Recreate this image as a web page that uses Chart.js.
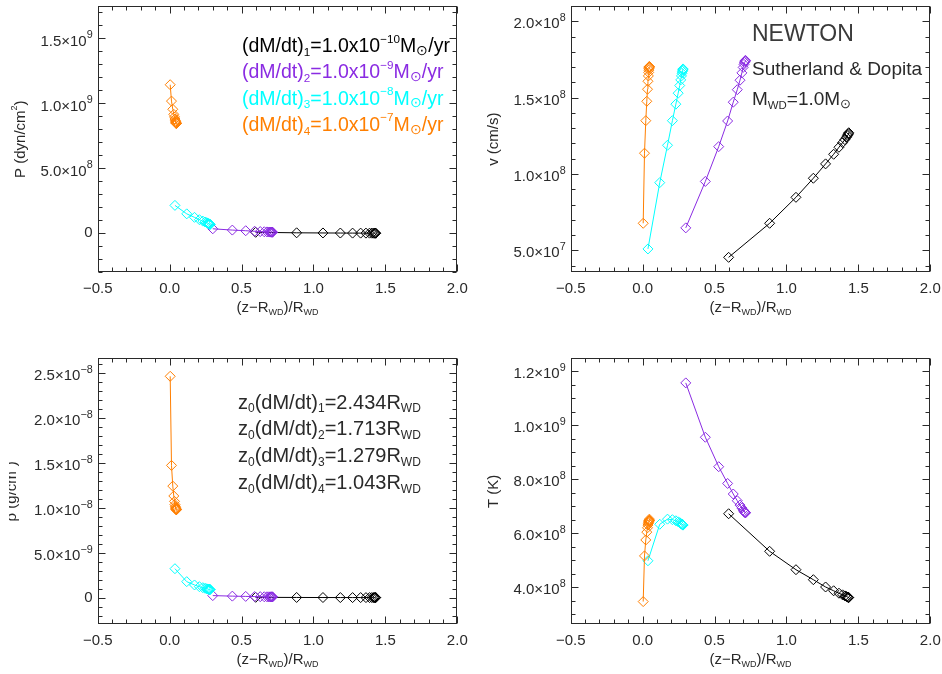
<!DOCTYPE html>
<html>
<head>
<meta charset="utf-8">
<script src="https://cdn.jsdelivr.net/npm/chart.js@4.4.1/dist/chart.umd.min.js"></script>
<style>
body { margin: 0; background: #fff; width: 942px; height: 674px; position: relative; overflow: hidden; }
canvas { position: absolute; }
</style>
</head>
<body>
<canvas id="pres" width="471" height="337" style="left:0;top:0"></canvas>
<canvas id="vel" width="471" height="337" style="left:471px;top:0"></canvas>
<canvas id="rho" width="471" height="337" style="left:0;top:337px"></canvas>
<canvas id="temp" width="471" height="337" style="left:471px;top:337px"></canvas>
<script>
const FONT = '"Liberation Sans", Arial, sans-serif';
const INK = '#2a2a2a';

// one series per accretion rate (dM/dt)1..4
const seriesNames = ['(dM/dt)1', '(dM/dt)2', '(dM/dt)3', '(dM/dt)4'];
const seriesColors = ['#000000', '#8a2be2', '#00ffff', '#ff7f00'];
const rateExps = ['\u221210', '\u22129', '\u22128', '\u22127'];
const z0Values = ['2.434', '1.713', '1.279', '1.043'];

// (z - R_WD) / R_WD of each zone
const z1 = [0.598, 0.883, 1.066, 1.187, 1.272, 1.328, 1.365, 1.390, 1.406, 1.417, 1.424, 1.428, 1.431, 1.433];
const z2 = [0.300, 0.436, 0.529, 0.591, 0.630, 0.658, 0.677, 0.690, 0.699, 0.705, 0.709, 0.712, 0.714, 0.715];
const z3 = [0.037, 0.119, 0.173, 0.207, 0.231, 0.247, 0.258, 0.265, 0.270, 0.274, 0.277, 0.279, 0.280, 0.281];
const z4 = [0.004, 0.013, 0.022, 0.029, 0.034, 0.037, 0.040, 0.042, 0.043, 0.044, 0.045, 0.046, 0.046, 0.047];

// pressure (dyn/cm^2)
const pres1 = [8e6, 4e6, 2.8e6, 2.2e6, 1.8e6, 1.6e6, 1.5e6, 1.4e6, 1.35e6, 1.3e6, 1.28e6, 1.26e6, 1.25e6, 1.25e6];
const pres2 = [3.5e7, 2.5e7, 2.0e7, 1.6e7, 1.35e7, 1.2e7, 1.1e7, 1.03e7, 9.8e6, 9.5e6, 9.3e6, 9.2e6, 9.1e6, 9.0e6];
const pres3 = [2.15e8, 1.50e8, 1.23e8, 1.05e8, 9.4e7, 8.7e7, 8.2e7, 7.8e7, 7.5e7, 7.3e7, 7.1e7, 7.0e7, 6.9e7, 6.9e7];
const pres4 = [1.144e9, 1.018e9, 9.55e8, 9.16e8, 8.96e8, 8.80e8, 8.70e8, 8.62e8, 8.56e8, 8.52e8, 8.49e8, 8.47e8, 8.46e8, 8.45e8];

// velocity (cm/s)
const vel1 = [4.54e7, 6.77e7, 8.47e7, 9.72e7, 1.066e8, 1.129e8, 1.175e8, 1.205e8, 1.225e8, 1.240e8, 1.250e8, 1.258e8, 1.264e8, 1.270e8];
const vel2 = [6.47e7, 9.51e7, 1.179e8, 1.347e8, 1.470e8, 1.552e8, 1.614e8, 1.662e8, 1.698e8, 1.718e8, 1.730e8, 1.737e8, 1.741e8, 1.744e8];
const vel3 = [5.09e7, 9.43e7, 1.188e8, 1.349e8, 1.457e8, 1.529e8, 1.579e8, 1.616e8, 1.642e8, 1.660e8, 1.672e8, 1.680e8, 1.685e8, 1.688e8];
const vel4 = [6.77e7, 1.136e8, 1.349e8, 1.476e8, 1.555e8, 1.607e8, 1.642e8, 1.665e8, 1.680e8, 1.690e8, 1.696e8, 1.700e8, 1.702e8, 1.704e8];

// density (g/cm^3)
const rho1 = [4e-11, 2.2e-11, 1.6e-11, 1.3e-11, 1.1e-11, 1.0e-11, 9.5e-12, 9e-12, 8.8e-12, 8.6e-12, 8.5e-12, 8.4e-12, 8.4e-12, 8.3e-12];
const rho2 = [2.3e-10, 1.7e-10, 1.4e-10, 1.2e-10, 1.1e-10, 1.0e-10, 9.5e-11, 9.1e-11, 8.9e-11, 8.7e-11, 8.6e-11, 8.5e-11, 8.5e-11, 8.4e-11];
const rho3 = [3.22e-9, 1.78e-9, 1.41e-9, 1.22e-9, 1.11e-9, 1.04e-9, 9.9e-10, 9.6e-10, 9.4e-10, 9.3e-10, 9.2e-10, 9.1e-10, 9.1e-10, 9.0e-10];
const rho4 = [2.46e-8, 1.47e-8, 1.24e-8, 1.13e-8, 1.07e-8, 1.035e-8, 1.015e-8, 1.0e-8, 9.92e-9, 9.86e-9, 9.82e-9, 9.79e-9, 9.77e-9, 9.76e-9];

// temperature (K)
const temp1 = [6.72e8, 5.33e8, 4.65e8, 4.28e8, 4.01e8, 3.87e8, 3.78e8, 3.72e8, 3.68e8, 3.66e8, 3.64e8, 3.63e8, 3.62e8, 3.62e8];
const temp2 = [1.156e9, 9.55e8, 8.46e8, 7.84e8, 7.45e8, 7.20e8, 7.04e8, 6.93e8, 6.86e8, 6.81e8, 6.78e8, 6.77e8, 6.76e8, 6.75e8];
const temp3 = [4.98e8, 6.33e8, 6.52e8, 6.50e8, 6.46e8, 6.42e8, 6.39e8, 6.36e8, 6.34e8, 6.33e8, 6.32e8, 6.31e8, 6.30e8, 6.30e8];
const temp4 = [3.47e8, 5.16e8, 5.75e8, 6.04e8, 6.20e8, 6.30e8, 6.36e8, 6.40e8, 6.43e8, 6.45e8, 6.46e8, 6.47e8, 6.48e8, 6.52e8];

// axis ranges: [min, max, major step, minor step]
const xRange = [-0.5, 2.0, 0.5, 0.1];
const presRange = [-3.0e8, 1.75e9, 5e8, 1e8];
const velRange = [3.56e7, 2.10e8, 5e7, 1e7];
const rhoRange = [-2.96e-9, 2.66e-8, 5e-9, 1e-9];
const tempRange = [2.63e8, 1.247e9, 2e8, 5e7];

const zs = [z1, z2, z3, z4];

// multiples of a step inside a range
function stepValues(rng, step) {
    const out = [];
    const n0 = Math.ceil(rng[0] / step - 1e-6), n1 = Math.floor(rng[1] / step + 1e-6);
    for (let n = n0; n <= n1; n++) out.push(n * step);
    return out;
}

// "1.5x10^9" as rich text segments
function sciSegs(v, step) {
    if (Math.abs(v) < step * 1e-6) return [['0']];
    const [m, e] = v.toExponential(1).split('e');
    return [[m + '×10'], [String(parseInt(e, 10)).replace('-', '\u2212'), 'tsup']];
}

const KINDS = {
    sub: [0.6, 0.3], sup: [0.6, -0.38], sun: [0.7, 0.22], tsup: [0.72, -0.4]
};

function drawRich(ctx, segs, x, y, size, color, align) {
    const parts = segs.map(([t, k]) => {
        const [f, d] = KINDS[k] || [1, 0];
        const s = size * f;
        ctx.font = s + 'px ' + FONT;
        return {t, s, dy: size * d, w: ctx.measureText(t).width};
    });
    const total = parts.reduce((a, p) => a + p.w, 0);
    let cx = align === 'center' ? x - total / 2 : align === 'right' ? x - total : x;
    ctx.fillStyle = color;
    ctx.textAlign = 'left';
    ctx.textBaseline = 'middle';
    parts.forEach(p => {
        ctx.font = p.s + 'px ' + FONT;
        ctx.fillText(p.t, cx, y + p.dy);
        cx += p.w;
    });
}

const xTitle = [['(z\u2212R'], ['WD', 'sub'], [')/R'], ['WD', 'sub']];

// box with inward major/minor ticks on all four sides, y labels, titles and notes
function idlFrame(cfg) {
    return {
        id: 'idlFrame',
        afterDraw(chart) {
            const ctx = chart.ctx;
            const a = chart.chartArea;
            const sx = chart.scales.x, sy = chart.scales.y;
            const L = Math.round(a.left) + 0.5, R = Math.round(a.right) - 0.5;
            const T = Math.round(a.top) + 0.5, B = Math.round(a.bottom) - 0.5;
            ctx.save();
            ctx.strokeStyle = INK;
            ctx.lineWidth = 1;
            ctx.strokeRect(L, T, R - L, B - T);
            ctx.beginPath();
            const tickLen = (v, rng) => {
                const q = v / rng[2];
                return Math.abs(q - Math.round(q)) < 1e-6 ? 7 : 4;
            };
            stepValues(xRange, xRange[3]).forEach(v => {
                const px = Math.round(sx.getPixelForValue(v)) + 0.5, len = tickLen(v, xRange);
                ctx.moveTo(px, B); ctx.lineTo(px, B - len);
                ctx.moveTo(px, T); ctx.lineTo(px, T + len);
            });
            stepValues(cfg.yRange, cfg.yRange[3]).forEach(v => {
                const py = Math.round(sy.getPixelForValue(v)) + 0.5, len = tickLen(v, cfg.yRange);
                ctx.moveTo(L, py); ctx.lineTo(L + len, py);
                ctx.moveTo(R, py); ctx.lineTo(R - len, py);
            });
            ctx.stroke();

            sy.ticks.forEach(t => {
                const segs = sciSegs(t.value, cfg.yRange[2]);
                const py = sy.getPixelForValue(t.value);
                drawRich(ctx, segs, a.left - 5, segs.length > 1 ? py + 3 : py, 15, INK, 'right');
            });

            drawRich(ctx, xTitle, (a.left + a.right) / 2, cfg.xTitleY, 15, INK, 'center');

            ctx.save();
            if (cfg.clipLeft) {
                ctx.beginPath();
                ctx.rect(cfg.clipLeft, 0, chart.width, chart.height);
                ctx.clip();
            }
            ctx.translate(cfg.yTitleX, (a.top + a.bottom) / 2);
            ctx.rotate(-Math.PI / 2);
            drawRich(ctx, cfg.yTitle, 0, 0, 15, INK, 'center');
            ctx.restore();

            (cfg.notes || []).forEach(n => drawRich(ctx, n.segs, n.x, n.y, n.size, n.color, 'left'));
            ctx.restore();
        }
    };
}

function makePanel(id, ys, yRange, area, cfg) {
    const W = 471, H = 337;
    const datasets = ys.map((vals, i) => ({
        label: seriesNames[i],
        data: vals.map((v, j) => ({x: zs[i][j], y: v})),
        showLine: true,
        borderColor: seriesColors[i],
        borderWidth: 1,
        pointStyle: 'rectRot',
        pointRadius: 5,
        pointBorderColor: seriesColors[i],
        pointBackgroundColor: 'rgba(0,0,0,0)',
        pointBorderWidth: 1,
        order: 4 - i
    }));
    cfg.yRange = yRange;
    return new Chart(document.getElementById(id), {
        type: 'scatter',
        data: {datasets},
        options: {
            responsive: false,
            animation: false,
            devicePixelRatio: 1,
            events: [],
            layout: {padding: {left: 0, top: area.top, right: W - area.right, bottom: 0}},
            plugins: {legend: {display: false}, tooltip: {enabled: false}},
            scales: {
                x: {
                    type: 'linear', min: xRange[0], max: xRange[1], bounds: 'data',
                    grid: {display: false, drawTicks: false}, border: {display: false},
                    afterBuildTicks: s => { s.ticks = stepValues(xRange, xRange[2]).map(v => ({value: v})); },
                    ticks: {
                        padding: 8, color: INK, font: {family: FONT, size: 15}, maxRotation: 0, autoSkip: false,
                        callback: v => v.toFixed(1).replace('-', '\u2212')
                    },
                    afterFit: s => { s.height = H - area.bottom; s.paddingLeft = 0; s.paddingRight = 0; }
                },
                y: {
                    type: 'linear', min: yRange[0], max: yRange[1], bounds: 'data',
                    grid: {display: false, drawTicks: false}, border: {display: false},
                    afterBuildTicks: s => { s.ticks = stepValues(yRange, yRange[2]).map(v => ({value: v})); },
                    ticks: {display: false},
                    afterFit: s => { s.width = area.left; s.paddingTop = 0; s.paddingBottom = 0; }
                }
            }
        },
        plugins: [idlFrame(cfg)]
    });
}

const legendNotes = rateExps.map((e, i) => ({
    x: 242, y: 46.7 + i * 26.3, size: 19.5, color: seriesColors[i],
    segs: [['(dM/dt)'], [String(i + 1), 'sub'], ['=1.0x10'], [e, 'sup'], ['M'], ['\u2299', 'sun'], ['/yr']]
}));
const z0Notes = z0Values.map((v, i) => ({
    x: 238, y: 66 + i * 26.8, size: 20, color: INK,
    segs: [['z'], ['0', 'sub'], ['(dM/dt)'], [String(i + 1), 'sub'], ['=' + v + 'R'], ['WD', 'sub']]
}));
const modelNotes = [
    {x: 281, y: 35, size: 23, color: '#3a3a3a', segs: [['NEWTON']]},
    {x: 281, y: 69.3, size: 19, color: INK, segs: [['Sutherland & Dopita']]},
    {x: 281, y: 100, size: 19, color: INK, segs: [['M'], ['WD', 'sub'], ['=1.0M'], ['\u2299', 'sun']]}
];

makePanel('pres', [pres1, pres2, pres3, pres4], presRange,
    {left: 97.7, right: 457.3, top: 5.7, bottom: 272.3},
    {xTitleY: 308, yTitleX: 20.5, yTitle: [['P (dyn/cm'], ['2', 'sup'], [')']], notes: legendNotes});
makePanel('vel', [vel1, vel2, vel3, vel4], velRange,
    {left: 99.7, right: 459.3, top: 5.7, bottom: 272.3},
    {xTitleY: 308, yTitleX: 22.5, yTitle: [['v (cm/s)']], notes: modelNotes});
makePanel('rho', [rho1, rho2, rho3, rho4], rhoRange,
    {left: 97.7, right: 457.3, top: 21.3, bottom: 287.3},
    {xTitleY: 323, yTitleX: 11.5, clipLeft: 9, yTitle: [['\u03c1 (g/cm'], ['3', 'sup'], [')']], notes: z0Notes});
makePanel('temp', [temp1, temp2, temp3, temp4], tempRange,
    {left: 99.7, right: 459.3, top: 21.3, bottom: 287.3},
    {xTitleY: 323, yTitleX: 22.5, yTitle: [['T (K)']]});
</script>
</body>
</html>
